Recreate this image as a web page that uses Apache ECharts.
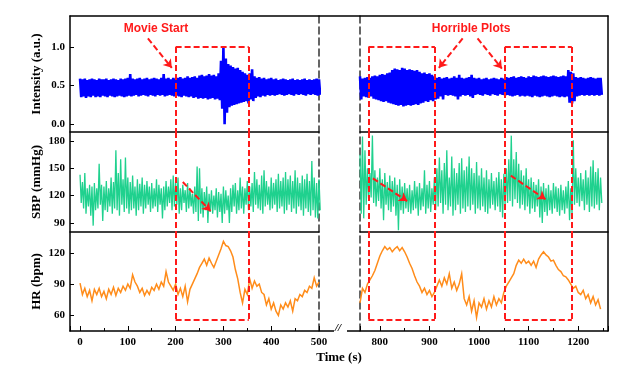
<!DOCTYPE html>
<html><head><meta charset="utf-8">
<script src="https://cdn.jsdelivr.net/npm/echarts@6/dist/echarts.min.js"></script>
<style>html,body{margin:0;padding:0;background:#fff}#c{width:642px;height:372px}</style>
</head><body><div id="c"></div>
<script>
// ---------------- data ----------------
const timeStep = 5;
const leftStart = 0;
const rightStart = 760;

const intensityLeftHigh = [
0.59,0.58,0.59,0.57,0.58,0.59,0.58,0.57,0.59,0.58,0.58,0.59,0.57,0.58,0.59,0.58,0.57,0.59,0.58,0.59,
0.60,0.65,0.59,0.58,0.59,0.60,0.58,0.59,0.60,0.58,0.59,0.60,0.59,0.58,0.60,0.65,0.59,0.60,0.58,0.60,
0.59,0.60,0.61,0.59,0.60,0.62,0.60,0.61,0.62,0.60,0.63,0.64,0.62,0.63,0.65,0.63,0.64,0.62,0.66,0.82,
1.00,0.85,0.78,0.76,0.74,0.72,0.73,0.70,0.68,0.66,0.64,0.66,0.71,0.62,0.60,0.61,0.59,0.60,0.58,0.59,
0.60,0.58,0.59,0.57,0.58,0.59,0.58,0.57,0.58,0.59,0.57,0.58,0.57,0.58,0.59,0.57,0.58,0.57,0.58,0.59,0.58];
const intensityLeftLow = [
0.35,0.36,0.34,0.36,0.35,0.37,0.35,0.36,0.35,0.37,0.36,0.35,0.37,0.36,0.35,0.36,0.37,0.36,0.35,0.36,
0.37,0.36,0.37,0.38,0.36,0.37,0.38,0.37,0.36,0.38,0.37,0.36,0.38,0.37,0.38,0.36,0.37,0.38,0.37,0.36,
0.37,0.36,0.35,0.37,0.36,0.35,0.36,0.34,0.35,0.33,0.34,0.33,0.34,0.32,0.33,0.34,0.32,0.33,0.31,0.20,
0.00,0.15,0.22,0.24,0.25,0.26,0.27,0.28,0.29,0.30,0.27,0.32,0.30,0.34,0.36,0.35,0.37,0.36,0.38,0.37,
0.38,0.37,0.38,0.39,0.38,0.37,0.38,0.39,0.38,0.37,0.39,0.38,0.39,0.38,0.37,0.39,0.38,0.39,0.38,0.37,0.38];
const intensityRightHigh = [
0.62,0.59,0.60,0.61,0.60,0.62,0.63,0.62,0.64,0.65,0.64,0.66,0.67,0.70,0.72,0.71,0.70,0.73,0.72,0.70,
0.71,0.70,0.69,0.70,0.68,0.66,0.67,0.65,0.66,0.64,0.62,0.60,0.61,0.59,0.60,0.61,0.59,0.60,0.62,0.60,
0.64,0.60,0.59,0.60,0.61,0.64,0.60,0.59,0.60,0.58,0.59,0.60,0.58,0.59,0.60,0.59,0.58,0.60,0.59,0.61,
0.60,0.61,0.62,0.60,0.61,0.62,0.61,0.60,0.62,0.61,0.63,0.62,0.61,0.62,0.63,0.62,0.61,0.62,0.63,0.62,
0.61,0.62,0.63,0.62,0.70,0.68,0.66,0.61,0.60,0.61,0.60,0.59,0.60,0.61,0.60,0.59,0.60,0.60];
const intensityRightLow = [
0.32,0.36,0.35,0.34,0.36,0.33,0.32,0.31,0.30,0.29,0.30,0.28,0.27,0.26,0.25,0.24,0.25,0.23,0.24,0.25,
0.24,0.25,0.26,0.25,0.27,0.28,0.30,0.29,0.31,0.30,0.32,0.33,0.36,0.32,0.38,0.37,0.38,0.37,0.36,0.32,
0.36,0.38,0.37,0.38,0.36,0.34,0.38,0.39,0.38,0.37,0.39,0.38,0.37,0.39,0.38,0.37,0.39,0.38,0.37,0.38,
0.37,0.36,0.37,0.38,0.36,0.37,0.36,0.37,0.36,0.35,0.37,0.36,0.35,0.36,0.37,0.36,0.35,0.36,0.37,0.36,
0.35,0.36,0.35,0.36,0.28,0.27,0.30,0.36,0.37,0.38,0.37,0.38,0.37,0.38,0.37,0.38,0.37,0.38];

const sbpLeftHigh = [
143,135,145,128,132,130,134,128,155,132,130,136,128,140,135,170,145,160,138,162,
140,135,142,130,138,133,140,132,136,130,134,128,138,132,128,130,136,130,138,142,
135,140,128,132,126,134,128,122,130,152,150,128,124,130,122,126,120,128,124,122,
130,126,120,128,132,134,126,140,130,128,136,130,134,146,138,132,142,148,136,130,
140,134,138,144,136,140,146,138,142,136,148,140,134,142,138,144,136,158,140,134,138];
const sbpLeftLow = [
112,106,100,108,98,87,104,106,110,92,104,102,108,100,106,104,98,110,102,106,
100,104,106,98,104,108,100,106,110,102,106,108,102,110,95,104,108,112,104,108,
110,100,104,112,102,106,108,100,102,92,100,96,104,90,102,100,104,96,102,90,
100,104,90,102,108,100,104,106,100,110,104,108,102,110,106,104,100,108,110,104,
106,110,102,106,108,100,104,110,102,106,100,108,104,98,106,102,98,104,96,95,104];
const sbpRightHigh = [
165,185,170,150,145,186,148,140,150,138,145,135,142,136,140,132,138,130,134,128,
132,126,136,130,134,128,148,132,136,128,140,150,162,148,156,170,140,163,150,145,
156,161,148,152,163,150,145,157,142,150,140,148,138,145,136,140,146,138,144,150,
160,186,160,168,155,148,142,150,138,140,135,132,138,130,134,128,132,126,134,130,
128,132,126,130,136,128,181,150,140,145,138,148,140,152,159,146,150,140];
const sbpRightLow = [
100,95,110,115,118,112,108,114,106,93,110,104,102,108,98,82,104,100,106,102,
100,104,106,98,104,108,100,106,102,110,104,108,112,100,110,104,108,98,104,110,
100,106,102,108,104,110,100,106,104,108,102,100,106,110,104,108,102,96,110,112,
114,108,116,112,106,110,104,108,100,106,102,108,96,90,102,98,104,100,106,102,
98,104,100,106,93,100,110,112,108,114,104,110,102,108,106,110,104,112];

const hrLeft = [
91,80,86,78,84,74,85,80,86,78,83,76,85,80,87,79,86,82,88,84,
90,86,99,92,88,82,86,79,84,80,87,84,90,85,92,88,102,92,88,84,
90,80,86,78,88,73,85,90,95,100,106,110,114,108,115,110,106,112,118,124,
131,127,126,122,116,104,95,82,72,85,80,95,86,93,88,90,82,80,70,76,
66,72,64,60,70,66,72,68,74,64,76,74,80,78,84,82,88,86,96,88,92];
const hrRight = [
72,86,82,90,94,98,103,110,117,122,126,123,125,121,124,126,122,125,121,116,
110,105,98,92,88,82,86,80,84,78,82,88,94,88,96,90,100,86,92,84,
90,100,76,70,78,64,74,58,72,68,76,66,74,68,78,70,76,72,82,88,
92,96,100,108,113,110,114,110,112,108,112,106,114,118,121,118,116,112,113,108,
104,102,98,97,94,90,86,88,82,80,84,76,80,72,78,70,75,66];

// x-axis ranges of the two segments, and y-axis ranges of the three panels
const leftRange = [-21, 500];
const rightRange = [760, 1260];
const intensityRange = [-0.1, 1.4];
const sbpRange = [80, 190];
const hrRange = [45, 140];

// annotations (data coordinates)
const boxStarts = [200, 777, 1052];
const boxEnds = [353, 911, 1187];
const boxTopIntensity = 1.0;
const boxBottomHR = 56;
const movieStartText = [159, 1.23];
const horribleText = [984, 1.23];
const movieArrow = [[142, 1.11], [192, 0.73]];
const horribleArrows = [[[967, 1.11], [919, 0.73]], [[997, 1.11], [1046, 0.72]]];
const sbpTrendLeft = [[[215, 135], [273, 103]]];
const sbpTrendRight = [[[786, 139], [855, 114]], [[1064, 142], [1134, 116]]];

// ---------------- build ----------------
function zigzag(t0, hi, lo) {
  const out = [];
  const n = Math.min(hi.length, lo.length);
  for (let i = 0; i < n; i++) {
    out.push([t0 + i * timeStep, hi[i]]);
    out.push([t0 + i * timeStep + timeStep / 2, lo[i]]);
  }
  return out;
}
function line(t0, v) { return v.map((y, i) => [t0 + i * timeStep, y]); }

const RED = '#ff1a1a';
const SERIF = 'Liberation Serif';
function seg(a, b) { return [{ coord: a, symbol: 'none' }, { coord: b, symbol: 'none' }]; }
function arrow(a, b) { return [{ coord: a, symbol: 'none' }, { coord: b, symbol: 'arrow', symbolSize: 8 }]; }

function boxLines(row, idxs, yr) {
  const L = [];
  idxs.forEach(i => {
    const a = boxStarts[i], b = boxEnds[i];
    if (row === 0) {
      L.push(seg([a, boxTopIntensity], [b, boxTopIntensity]));
      L.push(seg([a, boxTopIntensity], [a, yr[0]]));
      L.push(seg([b, boxTopIntensity], [b, yr[0]]));
    } else if (row === 1) {
      L.push(seg([a, yr[1]], [a, yr[0]]));
      L.push(seg([b, yr[1]], [b, yr[0]]));
    } else {
      L.push(seg([a, yr[1]], [a, boxBottomHR]));
      L.push(seg([b, yr[1]], [b, boxBottomHR]));
      L.push(seg([a, boxBottomHR], [b, boxBottomHR]));
    }
  });
  return L;
}
function markLine(data) {
  return { silent: true, animation: false, symbol: ['none', 'none'], label: { show: false },
    lineStyle: { color: RED, width: 2, type: [6, 3] }, emphasis: { disabled: true }, data };
}
function textPoint(name, coord) {
  return { silent: true, animation: false, symbol: 'circle', symbolSize: 0,
    label: { show: true, position: 'inside', formatter: '{b}', color: RED, fontWeight: 'bold',
      fontSize: 12, fontFamily: 'Liberation Sans' },
    data: [{ name, coord }] };
}

const rowTop = [16, 132, 232];
const rowH = [116, 100, 99];
const grids = [
  { left: 70, top: 16, width: 538, height: 315 },   // frame
  { left: 70, top: 16, width: 249, height: 315 },   // left dashed edge
  { left: 360, top: 16, width: 248, height: 315 }   // right dashed edge
];
for (let r = 0; r < 3; r++) grids.push({ left: 70, top: rowTop[r], width: 249, height: rowH[r] });
for (let r = 0; r < 3; r++) grids.push({ left: 360, top: rowTop[r], width: 248, height: rowH[r] });

const blackLine = { show: true, onZero: false, lineStyle: { color: '#000', width: 1.5 } };
const tickFont = { fontFamily: SERIF, fontWeight: 'bold', fontSize: 11, color: '#000' };

const xAxis = [
  { gridIndex: 0, type: 'value', position: 'top', min: 0, max: 1, axisLine: blackLine, axisTick: { show: false }, axisLabel: { show: false }, splitLine: { show: false } },
  { gridIndex: 0, type: 'value', position: 'bottom', min: 0, max: 1, axisLine: blackLine, axisTick: { show: false }, axisLabel: { show: false }, splitLine: { show: false },
    name: 'Time (s)', nameLocation: 'middle', nameGap: 20, nameTextStyle: { fontFamily: SERIF, fontWeight: 'bold', fontSize: 13, color: '#000' } },
  { gridIndex: 1, type: 'value', show: false, min: 0, max: 1 },
  { gridIndex: 2, type: 'value', show: false, min: 0, max: 1 }
];
const yAxis = [
  { gridIndex: 0, type: 'value', position: 'left', min: 0, max: 1, axisLine: blackLine, axisTick: { show: false }, axisLabel: { show: false }, splitLine: { show: false } },
  { gridIndex: 0, type: 'value', position: 'right', min: 0, max: 1, axisLine: blackLine, axisTick: { show: false }, axisLabel: { show: false }, splitLine: { show: false } },
  { gridIndex: 1, type: 'value', position: 'right', min: 0, max: 1, axisLine: { show: true, onZero: false, lineStyle: { color: '#333', width: 1.5, type: [7, 4] } }, axisTick: { show: false }, axisLabel: { show: false }, splitLine: { show: false } },
  { gridIndex: 2, type: 'value', position: 'left', min: 0, max: 1, axisLine: { show: true, onZero: false, lineStyle: { color: '#333', width: 1.5, type: [7, 4] } }, axisTick: { show: false }, axisLabel: { show: false }, splitLine: { show: false } }
];
const yRanges = [intensityRange, sbpRange, hrRange];
const ySplit = [3, 4, 3];
const yNames = ['Intensity (a.u.)', 'SBP (mmHg)', 'HR (bpm)'];
[leftRange, rightRange].forEach((xr, side) => {
  for (let r = 0; r < 3; r++) {
    const g = 3 + side * 3 + r;
    const bottom = r === 2;
    xAxis.push({
      gridIndex: g, type: 'value', min: xr[0], max: xr[1], splitNumber: 5,
      axisLine: bottom ? { show: false, onZero: false } : blackLine,
      axisTick: { show: bottom, inside: true, length: 5, lineStyle: { color: '#000', width: 1 } },
      minorTick: { show: bottom, splitNumber: 2, length: 3, lineStyle: { color: '#000', width: 1 } },
      axisLabel: Object.assign({ show: bottom, margin: 6, showMinLabel: false, showMaxLabel: side === 0,
        formatter: v => String(v) }, tickFont),
      splitLine: { show: false }
    });
    yAxis.push({
      gridIndex: g, type: 'value', min: yRanges[r][0], max: yRanges[r][1], splitNumber: ySplit[r],
      show: side === 0,
      axisLine: { show: false, onZero: false },
      axisTick: { show: true, inside: true, length: 4, lineStyle: { color: '#000', width: 1 } },
      axisLabel: Object.assign({ margin: 5, showMinLabel: false, showMaxLabel: false,
        formatter: r === 0 ? (v => v.toFixed(1)) : (v => String(v)) }, tickFont),
      splitLine: { show: false },
      name: yNames[r], nameLocation: 'middle', nameGap: 27,
      nameTextStyle: { fontFamily: SERIF, fontWeight: 'bold', fontSize: 13, color: '#000' }
    });
  }
});

const colors = ['#0000ff', '#1fd18e', '#ff8c1a'];
const series = [];
function addSeries(idx, data, color, width, ml, mp) {
  const s = { type: 'line', xAxisIndex: idx, yAxisIndex: idx, data, showSymbol: false, symbol: 'none',
    lineStyle: { color, width, join: 'miter' }, itemStyle: { color }, animation: false, silent: true, clip: true, z: 2 };
  if (ml) s.markLine = ml;
  if (mp) s.markPoint = mp;
  series.push(s);
}
// left side (axis index 4..6)
addSeries(4, zigzag(leftStart, intensityLeftHigh, intensityLeftLow), colors[0], 2.6,
  markLine(boxLines(0, [0], intensityRange).concat([arrow(movieArrow[0], movieArrow[1])])),
  textPoint('Movie Start', movieStartText));
addSeries(5, zigzag(leftStart, sbpLeftHigh, sbpLeftLow), colors[1], 1.3,
  markLine(boxLines(1, [0], sbpRange).concat(sbpTrendLeft.map(a => arrow(a[0], a[1])))));
addSeries(6, line(leftStart, hrLeft), colors[2], 1.5, markLine(boxLines(2, [0], hrRange)));
// right side (axis index 7..9)
addSeries(7, zigzag(rightStart, intensityRightHigh, intensityRightLow), colors[0], 2.6,
  markLine(boxLines(0, [1, 2], intensityRange).concat(horribleArrows.map(a => arrow(a[0], a[1])))),
  textPoint('Horrible Plots', horribleText));
addSeries(8, zigzag(rightStart, sbpRightHigh, sbpRightLow), colors[1], 1.3,
  markLine(boxLines(1, [1, 2], sbpRange).concat(sbpTrendRight.map(a => arrow(a[0], a[1])))));
addSeries(9, line(rightStart, hrRight), colors[2], 1.5, markLine(boxLines(2, [1, 2], hrRange)));

const chart = echarts.init(document.getElementById('c'), null, { renderer: 'canvas' });
chart.setOption({
  backgroundColor: '#fff',
  animation: false,
  grid: grids,
  xAxis, yAxis, series,
  graphic: [
    { type: 'rect', left: 334, top: 327, shape: { width: 13, height: 8 }, style: { fill: '#fff' }, z: 100 },
    { type: 'text', left: 335, top: 323, style: { text: '//', font: 'bold italic 11px "Liberation Serif"', fill: '#000' }, z: 101 }
  ]
});
</script></body></html>
